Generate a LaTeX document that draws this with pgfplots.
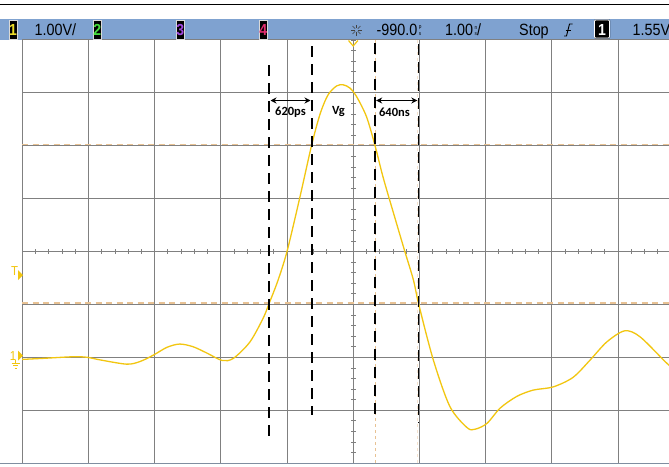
\documentclass[border=0pt]{standalone}
\usepackage{pgfplots}
\pgfplotsset{compat=1.18}
\usepackage{fontspec}
\setmainfont{Liberation Sans}
\newfontfamily\scopefont{Liberation Sans}[FakeStretch=0.88]
\newfontfamily\notefont{Carlito}
\usetikzlibrary{arrows.meta,calc}

\definecolor{hdr}{RGB}{127,162,208}
\definecolor{gridc}{RGB}{128,128,128}
\definecolor{trace}{RGB}{242,198,16}
\definecolor{cursor}{RGB}{232,194,148}
\definecolor{chone}{RGB}{236,220,40}
\definecolor{chtwo}{RGB}{70,220,60}
\definecolor{chthree}{RGB}{160,70,220}
\definecolor{chfour}{RGB}{225,45,110}

% all three layers share the same box (669 x 466)
\pgfplotsset{
  screen/.style={width=669pt,height=466pt,scale only axis,
    axis lines=none,ticks=none,clip=true},
  pix/.style={screen,xmin=0,xmax=669,ymin=0,ymax=466,y dir=reverse},
}
\newcommand\stk[2]{\hspace{1.4pt}\raisebox{0.2pt}{\fontsize{5.4}{7.2}\selectfont\shortstack{#1\\#2}}}
\newcommand\hdrtxt{\scopefont\fontsize{16.3}{16.3}\selectfont}
\newcommand\chbox[4]{% x, colour, label, width
  \fill[black] (#1,20.5) rectangle ({#1+#4},38.8);
  \draw[white!70!gray,line width=0.6pt] (#1,20.5) rectangle ({#1+#4},38.8);
  \node[text=#2,inner sep=0,anchor=base] at ({#1+#4/2},35.5)
    {\bfseries\scopefont\fontsize{16}{16}\selectfont #3};}

\begin{document}
\begin{tikzpicture}

% ---- screen background, graticule, header (pixel units) ----
\begin{axis}[pix]
  \fill[white] (0,0) rectangle (669,466);
  \draw[black,line width=0.8pt] (0,4.3) -- (669,4.3);
  \fill[hdr] (0,19) rectangle (669,40);
  \pgfplotsinvokeforeach{0,...,9}{
    \draw[gridc,line width=0.9pt] ({22.2+66.2*#1},39.9) -- ({22.2+66.2*#1},463.1);}
  \pgfplotsinvokeforeach{-4,...,4}{
    \draw[gridc,line width=0.9pt] (22.2,{251.5+52.9*#1}) -- (669,{251.5+52.9*#1});}
  \pgfplotsinvokeforeach{0,...,49}{
    \draw[gridc,line width=0.7pt] ({22.2+13.24*#1},249.3) -- ({22.2+13.24*#1},253.7);}
  \pgfplotsinvokeforeach{0,...,39}{
    \draw[gridc,line width=0.7pt] (351,{39.9+10.58*#1}) -- (355.6,{39.9+10.58*#1});}
  \draw[gridc!60!hdr,line width=1pt] (0,463.6) -- (669,463.6);
  % measurement levels / cursors
  \draw[cursor,line width=1.7pt,dash pattern=on 6pt off 4.5pt] (22.2,144.4) -- (669,144.4);
  \draw[cursor,line width=1.7pt,dash pattern=on 6pt off 4.5pt] (22.2,303.1) -- (669,303.1);
  \draw[cursor,line width=0.9pt,dash pattern=on 3pt off 3pt] (375,40) -- (375,463);
  \draw[cursor!45!white,line width=0.9pt,dash pattern=on 3pt off 3pt] (417,40) -- (417,463);
  % header
  \chbox{9.3}{chone}{1}{7.6}
  \node[anchor=base west,inner sep=0] at (34.5,35.5) {\hdrtxt 1.00V/};
  \chbox{93}{chtwo}{2}{8.6}
  \chbox{176}{chthree}{3}{8.6}
  \chbox{259}{chfour}{4}{8.6}
  \pgfplotsinvokeforeach{0,45,...,315}{
    \draw[black!75,line width=0.6pt] ($(356.5,30)+(#1:1.8pt)$) -- ($(356.5,30)+(#1:5.5pt)$);}
  \node[anchor=base west,inner sep=0] at (376.5,35.5) {\hdrtxt -990.0\stk{p}{s}};
  \node[anchor=base west,inner sep=0] at (445,35.5) {\hdrtxt 1.00\stk{n}{s}/};
  \node[anchor=base west,inner sep=0] at (519,35.5) {\hdrtxt Stop};
  \draw[black,line width=0.9pt] (564,36) -- (566.5,36) -- (569.5,24) -- (572.5,24);
  \draw[black,line width=0.9pt] (565.5,30.5) -- (570.5,30.5);
  \fill[black,rounded corners=1pt] (594,19.5) rectangle (610,38.5);
  \draw[white,line width=0.9pt,rounded corners=1pt] (594.5,20) rectangle (609.5,38);
  \node[text=white,inner sep=0,anchor=base] at (602,35.5) {\bfseries\scopefont\fontsize{16}{16}\selectfont 1};
  \node[anchor=base west,inner sep=0] at (632.5,35.5) {\hdrtxt 1.55V};
\end{axis}

% ---- channel 1 trace (time in ns, voltage in V) ----
\begin{axis}[screen,xmin=-6.325,xmax=3.780,ymin=-2.055,ymax=6.754]
  \addplot[trace,line width=1.3pt,smooth,tension=0.5] coordinates {
    (-5.99,-0.04) (-5.67,-0.02) (-5.22,0.01) (-5.01,0.00) (-4.81,-0.05)
    (-4.41,-0.13) (-4.21,-0.08) (-4.01,0.04) (-3.80,0.19) (-3.61,0.25)
    (-3.41,0.20) (-3.20,0.08) (-2.97,-0.06) (-2.80,-0.02) (-2.55,0.29)
    (-2.35,0.74) (-2.26,1.02) (-2.13,1.44) (-1.99,2.00) (-1.80,3.00)
    (-1.62,4.00) (-1.49,4.60) (-1.37,4.96) (-1.24,5.13) (-1.14,5.15)
    (-1.04,5.09) (-0.94,4.93) (-0.79,4.55) (-0.66,4.00) (-0.54,3.41)
    (-0.38,2.72) (-0.21,2.00) (-0.08,1.46) (0.00,1.00) (0.22,-0.05)
    (0.47,-0.93) (0.73,-1.33) (0.85,-1.36) (1.03,-1.25) (1.23,-0.96)
    (1.48,-0.74) (1.73,-0.62) (2.03,-0.56) (2.33,-0.38) (2.59,-0.05)
    (2.84,0.29) (3.11,0.50) (3.34,0.39) (3.72,-0.08) (3.81,-0.18)
  };
\end{axis}

% ---- annotations over the trace (pixel units) ----
\begin{axis}[pix]
  \begin{scope}[black,line width=1.8pt,dash pattern=on 11pt off 7pt]
    \draw (269.3,65) -- (269.3,437);
    \draw (311.7,46) -- (311.7,415);
    \draw (375,43) -- (375,421);
    \draw (418.5,44) -- (418.5,423);
  \end{scope}
  \draw[black,line width=1.4pt,{Stealth[length=6pt,width=6pt]}-{Stealth[length=6pt,width=6pt]}]
    (270.5,100.5) -- (310.5,100.5);
  \draw[black,line width=1.4pt,{Stealth[length=6pt,width=6pt]}-{Stealth[length=6pt,width=6pt]}]
    (376.2,100.5) -- (417.3,100.5);
  \node[inner sep=0] at (290.5,112.5) {\notefont\bfseries\fontsize{12.5}{12.5}\selectfont 620ps};
  \node[inner sep=0] at (338.5,111.5) {\notefont\bfseries\fontsize{12.5}{12.5}\selectfont Vg};
  \node[inner sep=0] at (394.5,112.5) {\notefont\bfseries\fontsize{12.5}{12.5}\selectfont 640ns};
  % trigger level, ground and trigger position markers
  \node[text=trace,inner sep=0,anchor=base] at (14.5,275) {\scopefont\fontsize{13}{13}\selectfont T};
  \fill[trace] (18,270) -- (23,275) -- (18,280) -- cycle;
  \node[text=trace,inner sep=0,anchor=base] at (13,360) {\scopefont\fontsize{13}{13}\selectfont 1};
  \fill[trace] (18,350.5) -- (23,355.5) -- (18,360.5) -- cycle;
  \draw[trace,line width=0.8pt] (15.5,360) -- (15.5,363.5) (11.5,363.5) -- (19.5,363.5)
    (13,365.8) -- (18,365.8) (14.5,368) -- (16.5,368);
  \draw[trace,line width=1.2pt] (348.5,40.5) -- (353.2,46) -- (357.9,40.5);
\end{axis}

\pgfresetboundingbox
\path[use as bounding box] (current axis.south west) rectangle (current axis.north east);
\end{tikzpicture}
\end{document}
